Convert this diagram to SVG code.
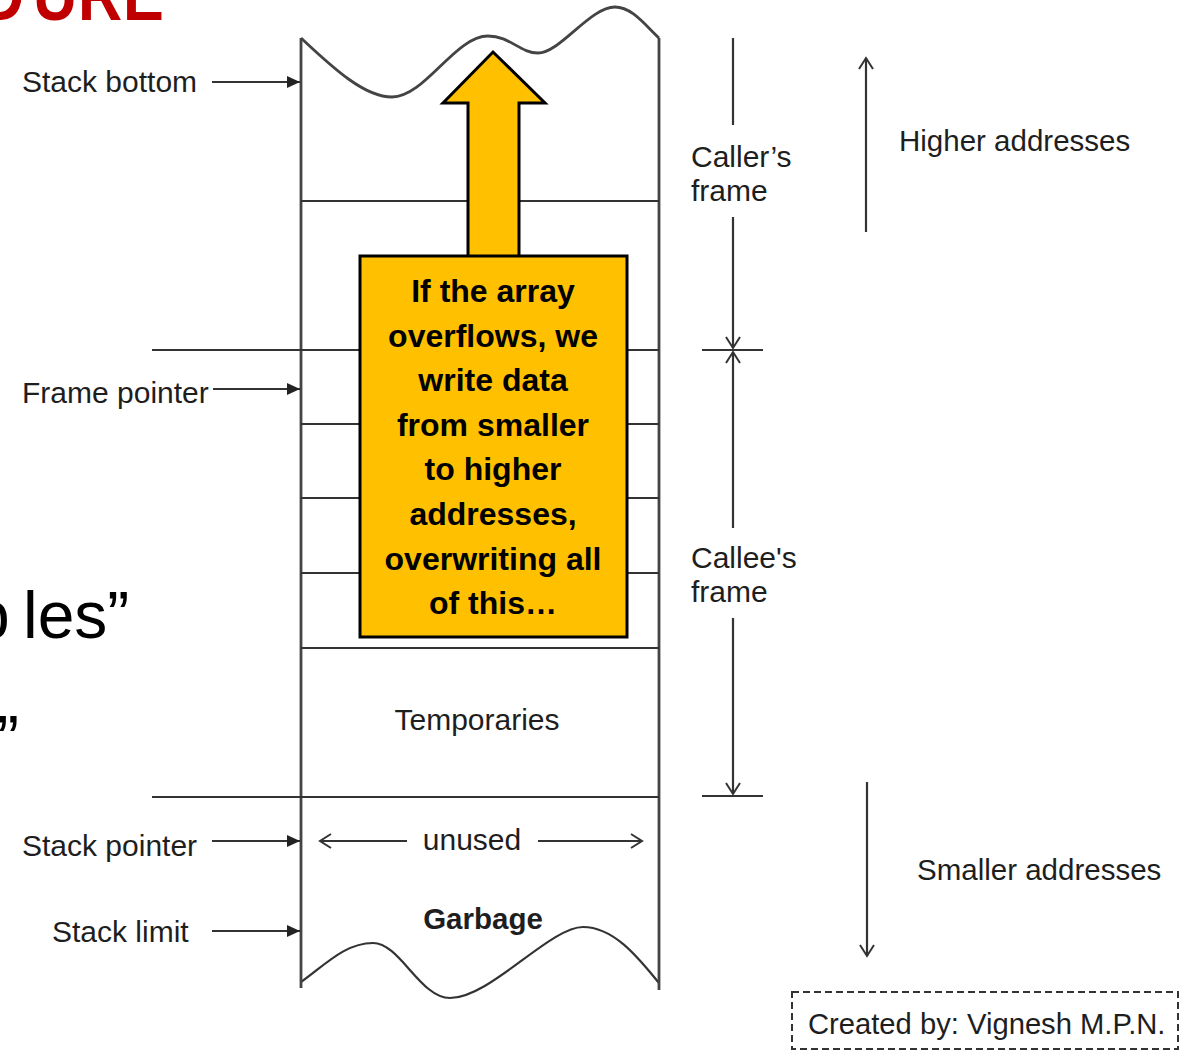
<svg xmlns="http://www.w3.org/2000/svg" width="1186" height="1051" viewBox="0 0 1186 1051">
<style>
.lbl{font-family:"Liberation Sans",Arial,sans-serif;font-size:30px;fill:#1e1e1e}
.ln{stroke:#333;stroke-width:2.2;fill:none}
.bd{stroke:#444;stroke-width:2.8;fill:none}
.bx{fill:#FFC000;stroke:#000;stroke-width:3}
.ct{font-family:"Liberation Sans",Arial,sans-serif;font-weight:bold;font-size:32px;fill:#000;text-anchor:middle}
.bg{font-family:"Liberation Sans",Arial,sans-serif;fill:#000}
</style>
<defs>
<marker id="fa" markerUnits="userSpaceOnUse" markerWidth="14" markerHeight="12" refX="13" refY="6" orient="auto">
<path d="M0,0 L13,6 L0,12 z" fill="#222"/>
</marker>
<marker id="ch" markerUnits="userSpaceOnUse" markerWidth="14" markerHeight="16" refX="12" refY="8" orient="auto">
<path d="M1,1 L12,8 L1,15" fill="none" stroke="#333" stroke-width="2"/>
</marker>
</defs>
<rect width="1186" height="1051" fill="#fff"/>

<g id="background-text">
<g transform="scale(0.85,1)">
<text class="bg" font-weight="bold" font-size="72" style="fill:#C00000"><tspan x="-23.5" y="20">D</tspan><tspan x="38.8" y="20">U</tspan><tspan x="91.8" y="20">R</tspan><tspan x="144.7" y="20">E</tspan></text>
</g>
<text class="bg" font-size="66"><tspan x="-27" y="638">b</tspan><tspan x="23" y="638">les”</tspan></text>
<text class="bg" font-size="66" x="-3" y="762">”</text>
</g>

<g id="stack">
<path class="bd" d="M301,38 C335,70 365,97 392,97 C425,97 455,36 488,36 C510,36 520,53 538,53 C560,53 590,7 615,7 C632,7 645,25 659,38"/>
<path class="ln" d="M301,982 C325,965 345,943 373,943 C400,943 420,998 450,998 C490,998 550,927 583,927 C615,927 640,960 659,983"/>
<line class="bd" x1="301" y1="38" x2="301" y2="988"/>
<line class="bd" x1="659" y1="38" x2="659" y2="990"/>
<line class="ln" x1="301" y1="201" x2="659" y2="201"/>
<line class="ln" x1="152" y1="350" x2="659" y2="350"/>
<line class="ln" x1="301" y1="424" x2="659" y2="424"/>
<line class="ln" x1="301" y1="498" x2="659" y2="498"/>
<line class="ln" x1="301" y1="573" x2="659" y2="573"/>
<line class="ln" x1="301" y1="648" x2="659" y2="648"/>
<line class="ln" x1="152" y1="797" x2="659" y2="797"/>
<text class="lbl" x="477" y="730" text-anchor="middle">Temporaries</text>
<text class="lbl" x="472" y="850" text-anchor="middle">unused</text>
<text class="lbl" x="483" y="929" text-anchor="middle" font-weight="bold" style="font-size:29.5px">Garbage</text>
</g>

<g id="labels-left">
<text class="lbl" x="22" y="92">Stack bottom</text>
<text class="lbl" x="22" y="403">Frame pointer</text>
<text class="lbl" x="22" y="856">Stack pointer</text>
<text class="lbl" x="52" y="942">Stack limit</text>
</g>

<g id="frames-right">
<text class="lbl" x="691" y="167">Caller’s</text>
<text class="lbl" x="691" y="201">frame</text>
<text class="lbl" x="691" y="568">Callee's</text>
<text class="lbl" x="691" y="602">frame</text>
<line class="ln" x1="702" y1="350" x2="763" y2="350"/>
<line class="ln" x1="702" y1="796" x2="763" y2="796"/>
<text class="lbl" x="899" y="151" style="font-size:29.5px">Higher addresses</text>
<text class="lbl" x="917" y="880" style="font-size:29.5px">Smaller addresses</text>
</g>

<g id="credit">
<rect x="792" y="992" width="386" height="57" fill="none" stroke="#333" stroke-width="2" stroke-dasharray="7,4"/>
<text class="lbl" x="808" y="1034" style="font-size:29.2px">Created by: Vignesh M.P.N.</text>
</g>

<g id="connectors">
<line class="ln" x1="212" y1="82" x2="300" y2="82" marker-end="url(#fa)"/>
<line class="ln" x1="213" y1="389" x2="300" y2="389" marker-end="url(#fa)"/>
<line class="ln" x1="212" y1="841" x2="300" y2="841" marker-end="url(#fa)"/>
<line class="ln" x1="212" y1="931" x2="300" y2="931" marker-end="url(#fa)"/>
<line class="ln" x1="407" y1="841" x2="320" y2="841" marker-end="url(#ch)"/>
<line class="ln" x1="538" y1="841" x2="642" y2="841" marker-end="url(#ch)"/>
<line class="ln" x1="733" y1="38" x2="733" y2="125"/>
<line class="ln" x1="733" y1="217" x2="733" y2="348" marker-end="url(#ch)"/>
<line class="ln" x1="733" y1="528" x2="733" y2="352" marker-end="url(#ch)"/>
<line class="ln" x1="733" y1="618" x2="733" y2="794" marker-end="url(#ch)"/>
<line class="ln" x1="866" y1="232" x2="866" y2="58" marker-end="url(#ch)"/>
<line class="ln" x1="867" y1="782" x2="867" y2="956" marker-end="url(#ch)"/>
</g>

<g id="callout">
<polygon class="bx" points="468,258 468,103 443,103 493,52 545,103 519,103 519,258"/>
<rect class="bx" x="360" y="256" width="267" height="381"/>
<text class="ct" x="493" y="302">If the array</text>
<text class="ct" x="493" y="347">overflows, we</text>
<text class="ct" x="493" y="391">write data</text>
<text class="ct" x="493" y="436">from smaller</text>
<text class="ct" x="493" y="480">to higher</text>
<text class="ct" x="493" y="525">addresses,</text>
<text class="ct" x="493" y="570">overwriting all</text>
<text class="ct" x="493" y="614">of this…</text>
</g>
</svg>
